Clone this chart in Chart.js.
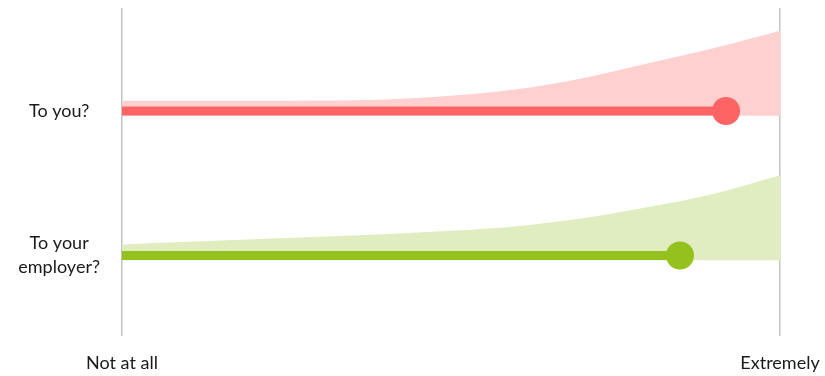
<!DOCTYPE html>
<html>
<head>
<meta charset="utf-8">
<script src="https://cdn.jsdelivr.net/npm/chart.js@4/dist/chart.umd.min.js"></script>
<style>
html,body{margin:0;padding:0;background:#fff;}
#wrap{width:825px;height:376px;position:relative;}
</style>
</head>
<body>
<div id="wrap"><canvas id="c" width="825" height="376"></canvas></div>
<script>
// ---- data ----
const categories = ["To you?", ["To your", "employer?"]];
const scaleLabels = ["Not at all", "Extremely"];
const scaleTicks = [0, 100];
const xGrid = [0, 10, 20, 30, 40, 50, 60, 70, 80, 90, 100];
const youDensity = [0.176, 0.176, 0.176, 0.178, 0.19, 0.235, 0.312, 0.441, 0.618, 0.796, 1.0];
const employerDensity = [0.185, 0.215, 0.245, 0.275, 0.306, 0.345, 0.40, 0.492, 0.624, 0.782, 1.0];
const meanScores = [91.8, 84.8];

const lineColors = ["#ff6464", "#95c11f"];
const areaColors = ["#ffd0d0", "#dfedc0"];

// ---- build datasets ----
const baseOffset = 0.032;   // baseline of ridge just below the mean line
const ridgeScale = 0.588;   // density -> row units
const densities = [youDensity, employerDensity];
const datasets = [];
densities.forEach((dens, r) => {
  const base = r + baseOffset;
  datasets.push({
    type: 'line',
    data: xGrid.map((x, i) => ({x: x, y: base - dens[i] * ridgeScale})),
    borderWidth: 0,
    borderColor: 'rgba(0,0,0,0)',
    backgroundColor: areaColors[r],
    fill: {value: base},
    pointRadius: 0,
    cubicInterpolationMode: 'monotone',
    order: 3
  });
  datasets.push({
    type: 'line',
    data: [{x: 0, y: r}, {x: meanScores[r], y: r}],
    borderWidth: 9,
    borderColor: lineColors[r],
    borderCapStyle: 'butt',
    fill: false,
    pointRadius: [0, 14],
    pointHoverRadius: [0, 14],
    pointBorderWidth: 0,
    pointBackgroundColor: lineColors[r],
    order: 1
  });
});

const FONT = {family: 'Lato, "Noto Sans", sans-serif', size: 18};

new Chart(document.getElementById('c'), {
  type: 'line',
  data: {datasets: datasets},
  options: {
    responsive: false,
    animation: false,
    events: [],
    layout: {autoPadding: false, padding: {top: 8, right: 45, bottom: 3, left: 0}},
    plugins: {legend: {display: false}, tooltip: {enabled: false}},
    scales: {
      x: {
        type: 'linear',
        min: 0, max: 100,
        afterBuildTicks: s => { s.ticks = scaleTicks.map(v => ({value: v})); },
        afterFit: s => { s.paddingLeft = 0; s.paddingRight = 0; s.height = 37; },
        ticks: {
          callback: (v) => scaleLabels[scaleTicks.indexOf(v)],
          color: '#1a1a1a', font: FONT, padding: 16, maxRotation: 0
        },
        grid: {color: '#c4c4c4', lineWidth: 1.5, drawTicks: false},
        border: {display: false}
      },
      y: {
        type: 'linear',
        reverse: true,
        min: -0.713, max: 1.557,
        afterBuildTicks: s => { s.ticks = categories.map((c, i) => ({value: i})); },
        afterFit: s => { s.width = 122; s.paddingTop = 0; s.paddingBottom = 0; },
        ticks: {
          callback: (v) => categories[v],
          color: '#1a1a1a', font: Object.assign({}, FONT, {lineHeight: 1.35}),
          crossAlign: 'center', padding: 22
        },
        grid: {display: false, drawTicks: false},
        border: {display: false}
      }
    }
  }
});
</script>
</body>
</html>
